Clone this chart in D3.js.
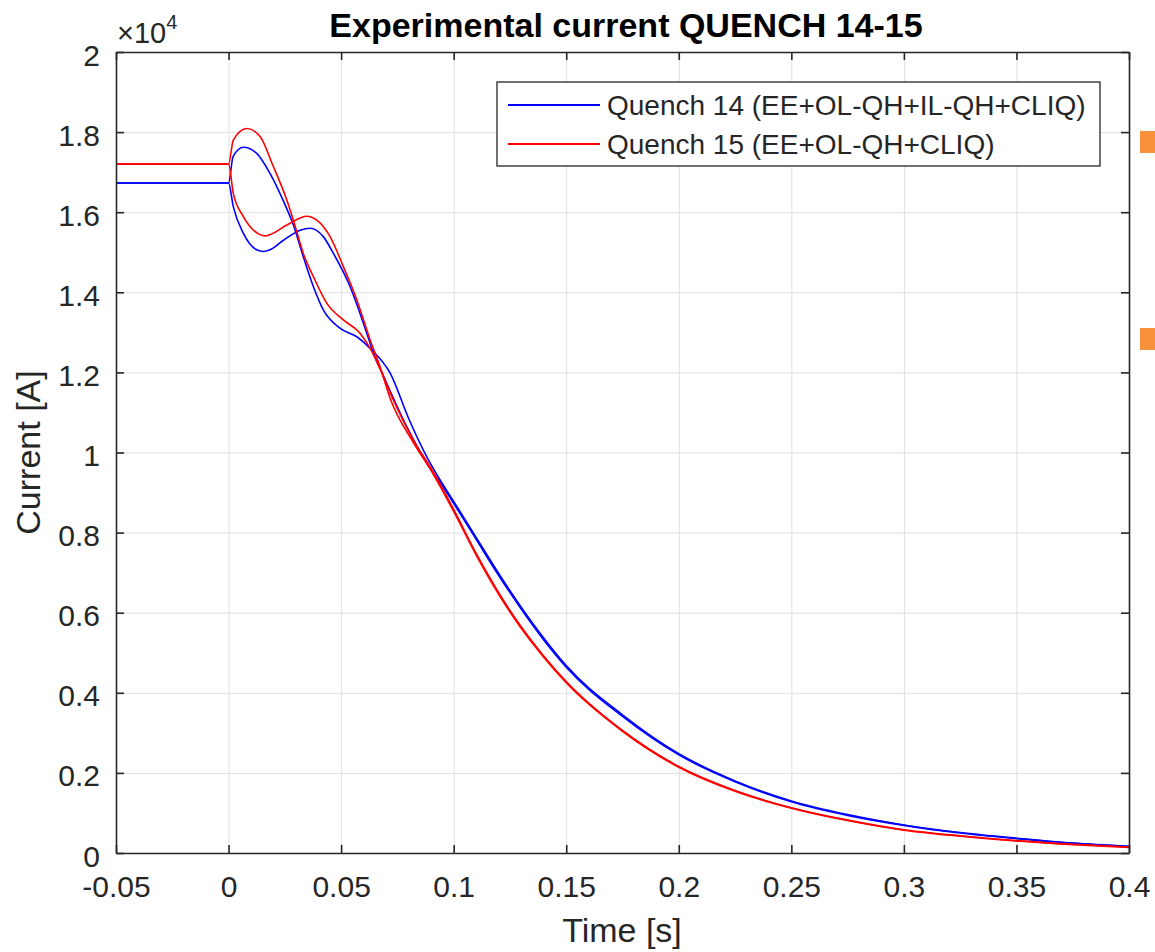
<!DOCTYPE html>
<html>
<head>
<meta charset="utf-8">
<script src="https://cdn.jsdelivr.net/npm/d3@7/dist/d3.min.js"></script>
<style>
  html, body { margin: 0; padding: 0; background: #fff; }
  svg { display: block; font-family: "Liberation Sans", Arial, Helvetica, sans-serif; }
</style>
</head>
<body>
<svg id="chart" width="1155" height="952"></svg>
<script>
// ---- DATA (time in s, current in units of 10^4 A) ----
const xTicks = [-0.05, 0, 0.05, 0.1, 0.15, 0.2, 0.25, 0.3, 0.35, 0.4];
const xTickLabels = ["-0.05", "0", "0.05", "0.1", "0.15", "0.2", "0.25", "0.3", "0.35", "0.4"];
const yTicks = [0, 0.2, 0.4, 0.6, 0.8, 1, 1.2, 1.4, 1.6, 1.8, 2];
const yTickLabels = ["0", "0.2", "0.4", "0.6", "0.8", "1", "1.2", "1.4", "1.6", "1.8", "2"];

const seriesNames = ["Quench 14 (EE+OL-QH+IL-QH+CLIQ)", "Quench 15 (EE+OL-QH+CLIQ)"];
const seriesColors = ["#0000ff", "#ff0000"];

// Quench 14, signal A (overshoot first)
const q14a = [[-0.05,1.673],[0,1.673],[0.002,1.739],[0.0066,1.762],[0.0125,1.747],[0.0184,1.697],
  [0.0242,1.630],[0.0288,1.568],[0.0332,1.489],[0.0377,1.414],[0.0421,1.356],[0.0496,1.310],
  [0.057,1.289],[0.0629,1.260],[0.0718,1.198],[0.08,1.085],[0.088,0.990],[0.095,0.922],
  [0.1,0.878],[0.11,0.788],[0.12,0.698],[0.13,0.614],[0.14,0.537],[0.15,0.468],[0.175,0.345],
  [0.2,0.248],[0.225,0.180],[0.25,0.130],[0.275,0.096],[0.3,0.070],[0.325,0.051],[0.35,0.037],
  [0.375,0.025],[0.4,0.017]];
// Quench 14, signal B (dip first)
const q14b = [[-0.05,1.673],[0,1.673],[0.0021,1.614],[0.0066,1.547],[0.0125,1.506],[0.0155,1.502],
  [0.0184,1.506],[0.0244,1.530],[0.0318,1.555],[0.0362,1.560],[0.0421,1.539],[0.0466,1.497],
  [0.054,1.414],[0.0614,1.298],[0.0644,1.248],[0.069,1.189],[0.0792,1.064],[0.0881,0.973],
  [0.095,0.917],[0.1,0.873],[0.11,0.783],[0.12,0.693],[0.13,0.609],[0.14,0.532],[0.15,0.464],
  [0.175,0.341],[0.2,0.245],[0.225,0.178],[0.25,0.128],[0.275,0.094],[0.3,0.069],[0.325,0.050],
  [0.35,0.036],[0.375,0.024],[0.4,0.016]];
// Quench 15, signal A (overshoot first)
const q15a = [[-0.05,1.720],[0,1.720],[0.0021,1.780],[0.0081,1.809],[0.014,1.789],[0.0199,1.714],
  [0.0259,1.630],[0.0288,1.580],[0.0332,1.497],[0.0377,1.439],[0.0436,1.373],[0.051,1.331],
  [0.0584,1.298],[0.0629,1.260],[0.0688,1.189],[0.0732,1.131],[0.0821,1.031],[0.09,0.960],
  [0.1,0.858],[0.11,0.748],[0.12,0.650],[0.13,0.565],[0.14,0.492],[0.15,0.428],[0.175,0.306],
  [0.2,0.216],[0.225,0.156],[0.25,0.113],[0.275,0.082],[0.3,0.058],[0.325,0.043],[0.35,0.031],
  [0.375,0.022],[0.4,0.015]];
// Quench 15, signal B (dip first)
const q15b = [[-0.05,1.720],[0,1.720],[0.0021,1.647],[0.0066,1.589],[0.014,1.544],[0.0162,1.541],
  [0.0184,1.544],[0.0259,1.568],[0.0348,1.590],[0.0392,1.580],[0.0451,1.539],[0.051,1.464],
  [0.057,1.381],[0.0629,1.281],[0.0673,1.214],[0.0718,1.135],[0.0821,1.025],[0.09,0.955],
  [0.1,0.853],[0.11,0.744],[0.12,0.646],[0.13,0.561],[0.14,0.489],[0.15,0.425],[0.175,0.304],
  [0.2,0.214],[0.225,0.154],[0.25,0.112],[0.275,0.081],[0.3,0.057],[0.325,0.042],[0.35,0.030],
  [0.375,0.021],[0.4,0.014]];

const curves = [
  {data: q14a, series: 0}, {data: q14b, series: 0},
  {data: q15a, series: 1}, {data: q15b, series: 1}
];

// ---- LAYOUT ----
const svg = d3.select("#chart");
const margin = {left: 116, top: 52, right: 1129, bottom: 853};
const W = margin.right - margin.left, H = margin.bottom - margin.top;

const x = d3.scaleLinear().domain([-0.05, 0.4]).range([margin.left, margin.right]);
const y = d3.scaleLinear().domain([0, 2]).range([margin.bottom, margin.top]);

// grid
const grid = svg.append("g");
grid.append("g").attr("transform", `translate(0,${margin.bottom})`)
  .call(d3.axisBottom(x).tickValues(xTicks).tickSize(-H).tickFormat(""))
  .call(g => g.select(".domain").remove())
  .call(g => g.selectAll("line").attr("stroke", "#dfdfdf").attr("stroke-width", 1));
grid.append("g").attr("transform", `translate(${margin.left},0)`)
  .call(d3.axisLeft(y).tickValues(yTicks).tickSize(-W).tickFormat(""))
  .call(g => g.select(".domain").remove())
  .call(g => g.selectAll("line").attr("stroke", "#dfdfdf").attr("stroke-width", 1));

// clip
svg.append("clipPath").attr("id", "clip").append("rect")
  .attr("x", margin.left).attr("y", margin.top).attr("width", W).attr("height", H);

const line = d3.line().x(d => x(d[0])).y(d => y(d[1])).curve(d3.curveMonotoneX);
svg.append("g").attr("clip-path", "url(#clip)")
  .selectAll("path").data(curves).join("path")
  .attr("d", d => line(d.data))
  .attr("fill", "none")
  .attr("stroke", d => seriesColors[d.series])
  .attr("stroke-width", 1.6)
  .attr("stroke-linejoin", "round");

// axes
const axisColor = "#262626";
const tickLen = 8;
function styleAxis(g) {
  g.select(".domain").attr("stroke", axisColor).attr("stroke-width", 1.6);
  g.selectAll(".tick line").attr("stroke", axisColor).attr("stroke-width", 1.6);
}
const xAxisB = svg.append("g").attr("transform", `translate(0,${margin.bottom})`)
  .call(d3.axisBottom(x).tickValues(xTicks).tickSize(-tickLen).tickSizeOuter(0)
    .tickFormat((d, i) => xTickLabels[i]))
  .call(styleAxis);
xAxisB.selectAll("text").attr("y", 44).attr("dy", 0)
  .attr("font-size", 30).attr("fill", axisColor)
  .attr("font-family", "Liberation Sans, Arial, sans-serif");

svg.append("g").attr("transform", `translate(0,${margin.top})`)
  .call(d3.axisTop(x).tickValues(xTicks).tickSize(-tickLen).tickSizeOuter(0).tickFormat(""))
  .call(styleAxis);

const yAxisL = svg.append("g").attr("transform", `translate(${margin.left},0)`)
  .call(d3.axisLeft(y).tickValues(yTicks).tickSize(-tickLen).tickSizeOuter(0)
    .tickFormat((d, i) => yTickLabels[i]))
  .call(styleAxis);
yAxisL.selectAll("text").attr("x", -16).attr("dy", 0).attr("y", 13)
  .attr("font-size", 30).attr("fill", axisColor)
  .attr("font-family", "Liberation Sans, Arial, sans-serif");

svg.append("g").attr("transform", `translate(${margin.right},0)`)
  .call(d3.axisRight(y).tickValues(yTicks).tickSize(-tickLen).tickSizeOuter(0).tickFormat(""))
  .call(styleAxis);

// exponent label
const expo = svg.append("text").attr("x", 117).attr("y", 43)
  .attr("font-size", 29).attr("fill", axisColor);
expo.append("tspan").text("×10");
expo.append("tspan").attr("font-size", 20).attr("dy", -14).text("4");

// title & labels
svg.append("text").attr("x", 626).attr("y", 37).attr("text-anchor", "middle")
  .attr("font-size", 34).attr("font-weight", "bold").attr("fill", "#000")
  .text("Experimental current QUENCH 14-15");
svg.append("text").attr("x", 622).attr("y", 942).attr("text-anchor", "middle")
  .attr("font-size", 34).attr("fill", axisColor).text("Time [s]");
svg.append("text").attr("transform", `translate(40,${(margin.top + margin.bottom) / 2}) rotate(-90)`)
  .attr("text-anchor", "middle").attr("font-size", 34).attr("fill", axisColor).text("Current [A]");

// legend
const lg = svg.append("g");
lg.append("rect").attr("x", 497).attr("y", 82).attr("width", 603).attr("height", 84)
  .attr("fill", "#fff").attr("stroke", axisColor).attr("stroke-width", 1.3);
seriesNames.forEach((name, i) => {
  const cy = 105 + i * 39;
  lg.append("line").attr("x1", 508).attr("x2", 600).attr("y1", cy).attr("y2", cy)
    .attr("stroke", seriesColors[i]).attr("stroke-width", 1.8);
  lg.append("text").attr("x", 607).attr("y", cy + 10).attr("font-size", 28)
    .attr("fill", axisColor).text(name);
});

// orange markers at right edge
svg.selectAll("rect.mark").data([131, 328]).join("rect").attr("class", "mark")
  .attr("x", 1140).attr("y", d => d).attr("width", 15).attr("height", 22).attr("fill", "#f7923a");
</script>
</body>
</html>
